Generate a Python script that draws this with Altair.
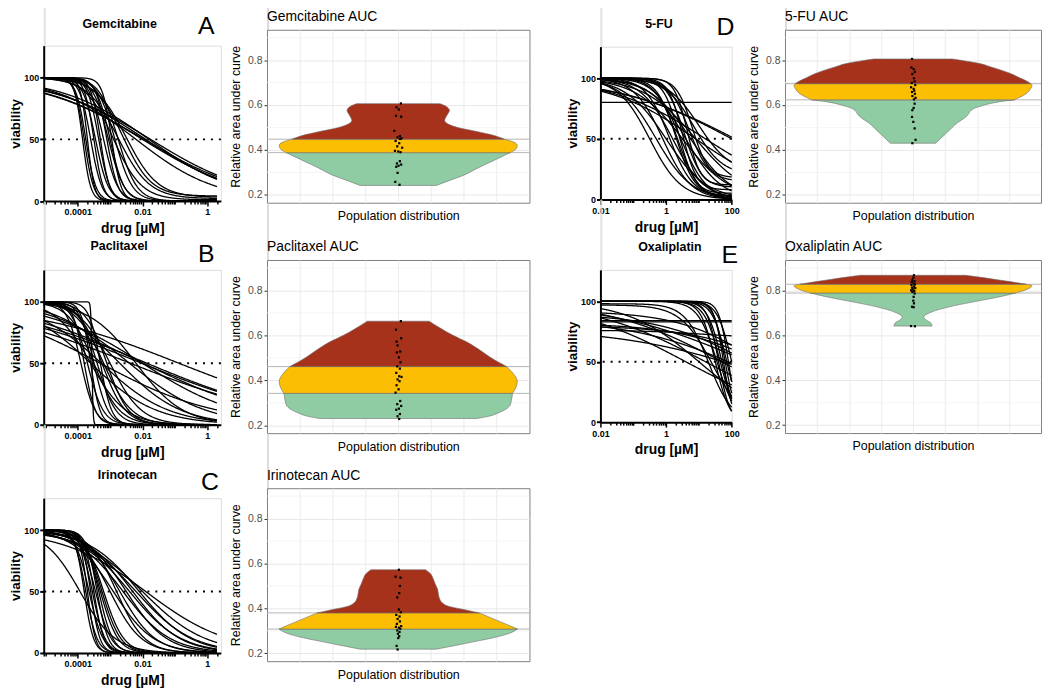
import math
import altair as alt
import pandas as pd

FONT = "Liberation Sans"

# ---------------- dose-response fits: log10 EC50 [µM], Hill slope, top, bottom ----------------
gem_logec50 = [-3.85, -3.80, -3.75, -3.70, -3.60, -3.50, -3.45, -3.35, -3.30, -3.20, -3.10, -3.05, -3.00,
               -2.95, -2.85, -2.75, -2.90, -2.75, -2.60, -2.50, -2.20, -2.00, -1.95, -1.90, -1.80, -1.75]
gem_hill = [3.5, 3.0, 2.8, 4.0, 2.5, 3.0, 2.2, 2.5, 3.0, 2.0, 2.5, 1.8, 2.0,
            3.0, 1.6, 1.5, 1.0, 0.9, 1.0, 0.9, 0.35, 0.28, 0.27, 0.30, 0.32, 0.28]
gem_top = [100, 100, 100, 100, 100, 100, 100, 100, 100, 100, 100, 100, 100,
           100, 100, 100, 100, 100, 100, 100, 100, 100, 100, 100, 100, 100]
gem_bottom = [0, 0, 0, 0, 0, 0, 0, 0, 0, 0, 0, 0, 0,
              0, 0, 0, 1, 2, 4, 3, 0, 0, 0, 0, 0, 0]

pac_logec50 = [-3.56, -3.90, -3.80, -3.70, -3.60, -3.50, -3.40, -3.30, -3.25, -3.20, -3.10, -3.00, -3.50,
               -3.60, -0.87, -1.86, -2.02, -2.37, -1.97, -2.00, -3.30, -2.40, -2.70, -3.27, -3.60, -2.20]
pac_hill = [25, 2.0, 2.5, 1.8, 3.0, 2.0, 1.5, 2.5, 1.2, 1.0, 1.3, 0.9, 1.1,
            0.8, 0.18, 0.19, 0.185, 0.18, 0.22, 0.29, 0.24, 0.37, 0.46, 0.42, 0.43, 0.6]
pac_top = [100, 100, 100, 100, 100, 100, 100, 100, 100, 100, 100, 100, 100,
           100, 100, 100, 100, 100, 100, 100, 100, 100, 100, 100, 100, 100]
pac_bottom = [0, 0, 0, 0, 0, 0, 0, 0, 0, 0, 0, 0, 0,
              0, 0, 0, 0, 0, 0, 0, 0, 0, 0, 0, 0, 0]

iri_logec50 = [-3.80, -3.75, -3.70, -3.65, -3.60, -3.55, -3.50, -3.45, -3.40, -3.35, -3.30, -3.25, -3.20,
               -3.93, -3.00, -2.90, -2.80, -2.70, -2.60, -2.50, -2.40, -2.30, -2.20, -2.10, -2.00, -1.90]
iri_hill = [3.0, 2.5, 3.5, 2.0, 3.0, 2.2, 2.8, 1.8, 2.5, 2.0, 1.6, 1.5, 1.4,
            0.8, 0.9, 0.7, 1.0, 0.8, 0.6, 0.7, 0.55, 0.6, 0.5, 0.55, 0.45, 0.34]
iri_top = [100, 100, 100, 100, 100, 100, 100, 100, 100, 100, 100, 100, 100,
           100, 100, 100, 100, 100, 100, 100, 100, 100, 100, 100, 100, 100]
iri_bottom = [0, 0, 0, 0, 0, 0, 0, 0, 0, 0, 0, 0, 0,
              0, 0, 0, 0, 0, 0, 0, 0, 0, 0, 0, 0, 0]

fu_logec50 = [-0.50, -0.30, -0.10, 0.00, 0.10, 0.20, 0.30, 0.35, 0.40, 0.45, 0.50, 0.50, 0.55,
              0.60, 0.65, 0.70, 0.75, 0.80, 0.85, 0.90, 1.00, 1.20, 0.90, 2.00, 2.10, 0.00]
fu_hill = [0.9, 0.8, 1.0, 0.7, 1.2, 0.9, 1.5, 1.3, 1.8, 1.1, 2.0, 0.6, 1.6,
           0.8, 2.2, 1.4, 0.7, 1.8, 1.0, 0.55, 0.9, 0.3, 0.32, 0.25, 0.24, 1.0]
fu_top = [100, 100, 100, 100, 100, 100, 100, 100, 100, 100, 100, 100, 100,
          100, 100, 100, 100, 100, 100, 100, 100, 100, 100, 100, 100, 80]
fu_bottom = [0, 0, 0, 0, 2, 0, 3, 0, 5, 0, 8, 0, 10,
             0, 12, 15, 0, 18, 20, 0, 22, 0, 0, 0, 0, 80]

oxa_logec50 = [1.50, 1.60, 1.65, 1.70, 1.75, 1.80, 1.85, 1.90, 2.00, 1.55, 1.30, 1.40, 1.70,
               1.20, 2.50, 0.60, 0.00, 0.00, 1.00, 3.00, 2.80, 2.50, 3.50, 4.00, 1.00, 3.00]
oxa_hill = [2.0, 2.5, 1.8, 2.0, 3.0, 2.5, 2.0, 3.0, 2.0, 1.5, 1.2, 0.9, 0.25,
            0.25, 0.2, 0.25, 1.0, 1.0, 0.4, 0.35, 0.3, 0.25, 0.3, 0.3, 0.5, 0.2]
oxa_top = [100, 100, 100, 100, 100, 100, 100, 100, 100, 100, 98, 97, 100,
           100, 100, 100, 84, 83, 100, 92, 90, 85, 82, 80, 76, 78]
oxa_bottom = [0, 0, 0, 0, 0, 0, 0, 0, 0, 0, 0, 0, 0,
              0, 0, 0, 84, 83, 0, 0, 0, 0, 0, 0, 70, 0]

# ---------------- AUC violins: outline (relative half width) and tercile cuts ----------------
gem_prof_auc = [0.242, 0.26, 0.29, 0.32, 0.35, 0.388, 0.405, 0.42, 0.435, 0.448, 0.465, 0.482, 0.50,
                0.515, 0.532, 0.555, 0.576, 0.595, 0.606]
gem_prof_w = [0.32, 0.41, 0.56, 0.67, 0.79, 0.94, 0.99, 1.0, 0.97, 0.89, 0.80, 0.66, 0.50,
              0.42, 0.39, 0.41, 0.43, 0.40, 0.35]
gem_cuts = [0.388, 0.448]
gem_auc = [0.607, 0.590, 0.580, 0.552, 0.548, 0.485, 0.462, 0.456, 0.452, 0.449, 0.440, 0.430, 0.416,
           0.410, 0.396, 0.393, 0.390, 0.350, 0.340, 0.335, 0.330, 0.325, 0.298, 0.258, 0.245]
gem_jit = [0.08, -0.05, 0.02, -0.07, 0.09, -0.12, 0.05, -0.02, 0.10, 0.06, -0.08, 0.03, -0.03,
           0.12, -0.10, 0.00, 0.07, 0.05, -0.04, 0.09, 0.01, -0.06, -0.02, -0.09, 0.04]

pac_prof_auc = [0.230, 0.24, 0.255, 0.27, 0.29, 0.31, 0.342, 0.37, 0.396, 0.42, 0.44, 0.461, 0.50,
                0.54, 0.572, 0.60, 0.63, 0.663]
pac_prof_w = [0.66, 0.76, 0.84, 0.90, 0.94, 0.95, 0.96, 0.99, 1.0, 0.98, 0.95, 0.91, 0.78,
              0.67, 0.57, 0.46, 0.36, 0.26]
pac_cuts = [0.342, 0.461]
pac_auc = [0.663, 0.625, 0.587, 0.572, 0.555, 0.528, 0.524, 0.502, 0.480, 0.462, 0.452, 0.433, 0.418,
           0.415, 0.404, 0.396, 0.378, 0.360, 0.345, 0.308, 0.294, 0.286, 0.274, 0.269, 0.250, 0.240, 0.228]
pac_jit = [0.08, -0.07, 0.09, -0.05, -0.02, 0.06, -0.04, 0.02, 0.07, -0.03, 0.05, -0.06, 0.03,
           0.10, -0.02, 0.04, -0.05, 0.01, -0.08, 0.06, -0.03, 0.09, 0.02, -0.06, 0.05, -0.02, 0.03]

iri_prof_auc = [0.2185, 0.235, 0.251, 0.265, 0.28, 0.295, 0.308, 0.32, 0.34, 0.36, 0.380, 0.395, 0.41,
                0.425, 0.44, 0.456, 0.486, 0.51, 0.537, 0.555, 0.572]
iri_prof_w = [0.32, 0.48, 0.63, 0.76, 0.88, 0.96, 1.0, 0.95, 0.86, 0.77, 0.68, 0.55, 0.42,
              0.37, 0.35, 0.34, 0.33, 0.31, 0.29, 0.27, 0.23]
iri_cuts = [0.308, 0.380]
iri_auc = [0.572, 0.541, 0.537, 0.500, 0.468, 0.449, 0.395, 0.383, 0.371, 0.364, 0.353, 0.342,
           0.331, 0.321, 0.318, 0.314, 0.309, 0.302, 0.295, 0.287, 0.276, 0.268, 0.233, 0.217]
iri_jit = [0.02, -0.08, 0.07, 0.05, 0.03, -0.03, 0.02, 0.08, -0.06, 0.04, -0.02, 0.05,
           -0.04, 0.09, -0.07, 0.02, 0.06, -0.03, 0.04, -0.01, 0.03, 0.00, -0.05, -0.02]

fu_prof_auc = [0.430, 0.45, 0.47, 0.49, 0.511, 0.55, 0.584, 0.600, 0.614, 0.623, 0.65, 0.675, 0.687,
               0.695, 0.708, 0.72, 0.738, 0.752, 0.767, 0.786, 0.805]
fu_prof_w = [0.19, 0.23, 0.27, 0.31, 0.35, 0.45, 0.51, 0.60, 0.72, 0.85, 0.95, 0.99, 1.0,
             0.99, 0.95, 0.90, 0.83, 0.76, 0.67, 0.55, 0.33]
fu_cuts = [0.623, 0.695]
fu_auc = [0.805, 0.767, 0.760, 0.748, 0.738, 0.719, 0.705, 0.698, 0.689, 0.679, 0.672, 0.664, 0.658,
          0.650, 0.640, 0.632, 0.625, 0.606, 0.587, 0.577, 0.547, 0.525, 0.496, 0.445, 0.430]
fu_jit = [-0.03, -0.05, 0.02, 0.06, -0.02, 0.03, 0.05, -0.04, 0.07, -0.06, 0.02, 0.04, -0.03,
          0.06, -0.02, 0.08, 0.03, 0.05, 0.02, -0.02, -0.03, 0.01, 0.05, 0.08, -0.02]

oxa_prof_auc = [0.641, 0.655, 0.668, 0.682, 0.695, 0.71, 0.732, 0.75, 0.761, 0.775, 0.788, 0.805, 0.820,
                0.827, 0.84, 0.85, 0.86, 0.867]
oxa_prof_w = [0.16, 0.15, 0.11, 0.09, 0.12, 0.19, 0.35, 0.52, 0.63, 0.76, 0.86, 0.96, 1.0,
              0.95, 0.80, 0.67, 0.54, 0.44]
oxa_cuts = [0.788, 0.827]
oxa_auc = [0.867, 0.856, 0.845, 0.840, 0.837, 0.830, 0.826, 0.824, 0.817, 0.812, 0.810, 0.804,
           0.800, 0.797, 0.793, 0.786, 0.771, 0.754, 0.742, 0.727, 0.725, 0.641, 0.640]
oxa_jit = [0.03, 0.01, -0.02, 0.05, -0.04, 0.02, 0.06, -0.05, 0.03, -0.03, 0.07, 0.00,
           -0.06, 0.04, -0.02, 0.05, 0.02, 0.01, 0.03, -0.03, 0.02, -0.06, 0.06]

BAND_NAMES = ["low", "mid", "high"]
BAND_COLORS = ["#8fcca3", "#fcbe03", "#a7321b"]


def curve_panel(ec, hl, tp, bt, lmin, lmax, lend, w, h):
    df = pd.DataFrame({"curve": list(range(len(ec))), "logec50": ec, "hill": hl,
                       "top": tp, "bottom": bt})
    n = 300
    ticks = []
    for k in range(math.floor(lmin), math.ceil(lmax) + 1):
        for m in range(1, 10):
            v = m * 10.0 ** k
            if 10 ** lmin <= v <= 10 ** lmax:
                ticks.append(v)
    major = ("abs(log(datum.value)/LN10 - round(log(datum.value)/LN10)) < 0.001 && "
             "round(log(datum.value)/LN10) % 2 == 0")
    xs = alt.Scale(type="log", domain=[10 ** lmin, 10 ** lmax], nice=False)
    ys = alt.Scale(domain=[0, 126], nice=False, zero=True)
    xax = alt.Axis(values=ticks, labelExpr=f"({major}) ? format(datum.value, '~g') : ''",
                   title="drug [µM]", grid=False, domainWidth=2, domainColor="black",
                   tickColor="black", tickWidth=1.5,
                   tickSize={"condition": {"test": major, "value": 5}, "value": 3},
                   labelFont=FONT, labelFontWeight="bold", labelFontSize=9, labelColor="black",
                   labelFlush=False, labelOverlap=False, labelPadding=2,
                   titleFont=FONT, titleFontWeight="bold", titleFontSize=14, titleColor="black",
                   titlePadding=5)
    yax = alt.Axis(values=[0, 50, 100], title="viability", grid=False, domainWidth=2,
                   domainColor="black", tickColor="black", tickWidth=2, tickSize=4,
                   labelFont=FONT, labelFontWeight="bold", labelFontSize=9, labelColor="black",
                   labelFlush=False, labelPadding=1,
                   titleFont=FONT, titleFontWeight="bold", titleFontSize=13.5, titleColor="black",
                   titlePadding=1)
    lines = alt.Chart(df).transform_calculate(
        step=f"sequence(0, {n + 1})"
    ).transform_flatten(["step"]).transform_calculate(
        logx=f"({lmin}) + datum.step * (({lend}) - ({lmin})) / {n}"
    ).transform_calculate(
        conc="pow(10, datum.logx)",
        viab="datum.bottom + (datum.top - datum.bottom) / (1 + pow(10, (datum.logx - datum.logec50) * datum.hill))",
    ).mark_line(color="black", strokeWidth=1.3).encode(
        x=alt.X("conc:Q", scale=xs, axis=xax),
        y=alt.Y("viab:Q", scale=ys, axis=yax),
        detail="curve:N",
    )
    ref = alt.Chart(pd.DataFrame({"y": [50]})).mark_rule(
        color="black", strokeWidth=2, strokeDash=[2, 6]
    ).encode(y=alt.Y("y:Q", scale=ys, axis=yax))
    return alt.layer(lines, ref).properties(width=w, height=h)


def auc_panel(prof_auc, prof_w, cuts, dots, jit, w, h):
    lo, hi = cuts
    rows = []
    for a, wv in zip(prof_auc, prof_w):
        if a <= lo + 1e-9:
            rows.append(("low", a, wv))
        if lo - 1e-9 <= a <= hi + 1e-9:
            rows.append(("mid", a, wv))
        if a >= hi - 1e-9:
            rows.append(("high", a, wv))
    vdf = pd.DataFrame(rows, columns=["band", "auc", "w"])
    half = 120.0 / (w / 8.0)
    ys = alt.Scale(domain=[0.165, 0.935], nice=False, zero=False)
    xs = alt.Scale(domain=[-4, 4], nice=False, zero=False)
    yax = alt.Axis(values=[0.2, 0.4, 0.6, 0.8], format=".1f", grid=True, gridColor="#e8e8e8",
                   gridWidth=1, domain=False, tickColor="#333333", tickSize=3,
                   labelFont=FONT, labelFontSize=10.5, labelColor="#4d4d4d", labelPadding=2,
                   title="Relative area under curve", titleFont=FONT, titleFontSize=12.5,
                   titleFontWeight="normal", titleColor="black", titlePadding=5)
    xax = alt.Axis(values=[-3, -2, -1, 0, 1, 2, 3], labels=False, ticks=False, domain=False,
                   grid=True, gridColor="#ebebeb", gridWidth=1,
                   title="Population distribution", titleFont=FONT, titleFontSize=12.5,
                   titleFontWeight="normal", titleColor="black", titlePadding=7)
    minor = alt.Chart(pd.DataFrame({"g": [0.3, 0.5, 0.7, 0.9]})).mark_rule(
        color="#f0f0f0", strokeWidth=0.7
    ).encode(y=alt.Y("g:Q", scale=ys, axis=yax))
    thr = alt.Chart(pd.DataFrame({"t": cuts})).mark_rule(
        color="#b5b5b5", strokeWidth=1
    ).encode(y=alt.Y("t:Q", scale=ys, axis=yax))
    violin = alt.Chart(vdf).transform_calculate(
        xl=f"-datum.w * {half}", xr=f"datum.w * {half}"
    ).mark_area(orient="horizontal", interpolate="monotone", stroke="#6e6e6e",
                strokeWidth=0.6, opacity=1).encode(
        y=alt.Y("auc:Q", scale=ys, axis=yax),
        x=alt.X("xl:Q", scale=xs, axis=xax),
        x2="xr:Q",
        color=alt.Color("band:N", scale=alt.Scale(domain=BAND_NAMES, range=BAND_COLORS), legend=None),
        detail="band:N",
    )
    pts = alt.Chart(pd.DataFrame({"auc": dots, "jx": jit})).mark_square(
        size=5, color="black", opacity=1
    ).encode(
        y=alt.Y("auc:Q", scale=ys, axis=yax),
        x=alt.X("jx:Q", scale=xs, axis=xax),
    )
    return alt.layer(minor, thr, violin, pts).properties(
        width=w, height=h,
        view=alt.ViewBackground(stroke="#7f7f7f", strokeWidth=1),
    )


def spacer(h, texts=(), marks=()):
    base = alt.Chart(pd.DataFrame({"v": [0]})).mark_point(opacity=0).encode(
        x=alt.X("v:Q", axis=None), y=alt.Y("v:Q", axis=None)
    )
    layers = [base]
    for txt, x, y, size, weight, align in texts:
        layers.append(
            alt.Chart(pd.DataFrame({"t": [txt]})).mark_text(
                font=FONT, fontSize=size, fontWeight=weight, align=align,
                baseline="alphabetic", color="black"
            ).encode(text="t:N", x=alt.value(x), y=alt.value(y))
        )
    for mx, my in marks:  # invisible layout anchors
        layers.append(
            alt.Chart(pd.DataFrame({"m": [0]})).mark_point(opacity=0, size=1).encode(
                x=alt.value(mx), y=alt.value(my)
            )
        )
    return alt.layer(*layers).properties(width=1, height=h)


LMIN_L, LMAX_L, LEND_L = -5.05, 0.42, 0.30
LMIN_R, LMAX_R, LEND_R = -2.0, 2.0, 2.0
TS, LS, AS = 12.5, 25, 14

# column view positions (page px) and column boundaries
XA, XB, XC, XD = 41.5, 265.5, 600.0, 784.0
WA, WB, WC, WD = 178.5, 264.5, 132.3, 258.0
B0, B1, B2, B3 = 8.0, 225.0, 550.0, 745.0
R = 0.56

gem_c = curve_panel(gem_logec50, gem_hill, gem_top, gem_bottom, LMIN_L, LMAX_L, LEND_L, WA, 156.6)
pac_c = curve_panel(pac_logec50, pac_hill, pac_top, pac_bottom, LMIN_L, LMAX_L, LEND_L, WA, 156)
iri_c = curve_panel(iri_logec50, iri_hill, iri_top, iri_bottom, LMIN_L, LMAX_L, LEND_L, WA, 156)
fu_c = curve_panel(fu_logec50, fu_hill, fu_top, fu_bottom, LMIN_R, LMAX_R, LEND_R, WC, 154)
oxa_c = curve_panel(oxa_logec50, oxa_hill, oxa_top, oxa_bottom, LMIN_R, LMAX_R, LEND_R, WC, 153.4)

gem_a = auc_panel(gem_prof_auc, gem_prof_w, gem_cuts, gem_auc, gem_jit, WB, 174.3)
pac_a = auc_panel(pac_prof_auc, pac_prof_w, pac_cuts, pac_auc, pac_jit, WB, 174.5)
iri_a = auc_panel(iri_prof_auc, iri_prof_w, iri_cuts, iri_auc, iri_jit, WB, 174.3)
fu_a = auc_panel(fu_prof_auc, fu_prof_w, fu_cuts, fu_auc, fu_jit, WD, 174.3)
oxa_a = auc_panel(oxa_prof_auc, oxa_prof_w, oxa_cuts, oxa_auc, oxa_jit, WD, 174.4)

colA = alt.vconcat(
    spacer(41.7, [("Gemcitabine", 118 - XA, 24.0, TS, "bold", "center"),
                  ("A", 197 - XA, 30.0, LS, "normal", "left")],
           [(B0 - XA + R, 0), (B1 - XA - R, 0)]),
    gem_c,
    spacer(69.0, [("Paclitaxel", 117.5 - XA, 49.0, TS, "bold", "center"),
                  ("B", 197 - XA, 61.5, LS, "normal", "left")]),
    pac_c,
    spacer(74.0, [("Irinotecan", 125.8 - XA, 54.7, TS, "bold", "center"),
                  ("C", 200 - XA, 65.5, LS, "normal", "left")]),
    iri_c,
    spacing=0, bounds="flush",
)
colB = alt.vconcat(
    spacer(25.7, [("Gemcitabine AUC", 0, 17.3, AS, "normal", "left")],
           [(B1 - XB + R, 0), (B2 - XB - R, 0)]),
    gem_a,
    spacer(56.3, [("Paclitaxel AUC", 0, 47.9, AS, "normal", "left")]),
    pac_a,
    spacer(54.9, [("Irinotecan AUC", 0, 46.5, AS, "normal", "left")]),
    iri_a,
    spacing=0, bounds="flush",
)
colC = alt.vconcat(
    spacer(42.3, [("5-FU", 659 - XC, 24.0, TS, "bold", "center"),
                  ("D", 717 - XC, 31.5, LS, "normal", "left")],
           [(B2 - XC + R, 0), (B3 - XC - R, 0)]),
    fu_c,
    spacer(71.0, [("Oxaliplatin", 670 - XC, 51.7, TS, "bold", "center"),
                  ("E", 722 - XC, 64.0, LS, "normal", "left")]),
    oxa_c,
    spacing=0, bounds="flush",
)
colD = alt.vconcat(
    spacer(25.7, [("5-FU AUC", 0, 17.3, AS, "normal", "left")], [(B3 - XD + R, 0)]),
    fu_a,
    spacer(56.3, [("Oxaliplatin AUC", 0, 47.9, AS, "normal", "left")]),
    oxa_a,
    spacing=0, bounds="flush",
)

chart = alt.hconcat(colA, colB, colC, colD, spacing=0).properties(
    padding={"left": 0, "top": -7.7, "right": 0, "bottom": 0}
).configure_view(strokeWidth=0).configure(font=FONT)

chart.save("out.html", embed_options={"renderer": "svg", "actions": False})
